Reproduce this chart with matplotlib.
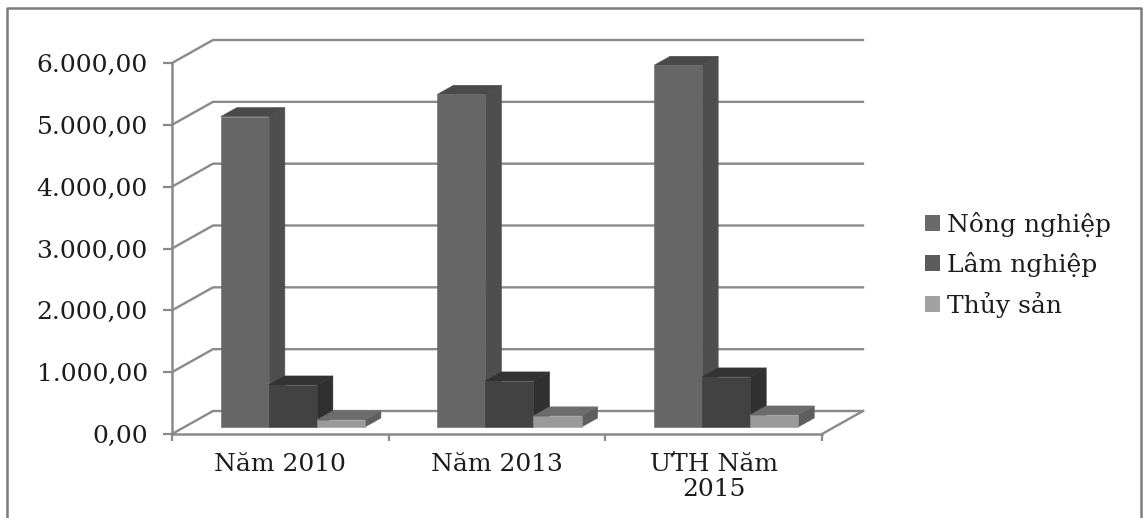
import matplotlib
matplotlib.use("Agg")
import matplotlib.pyplot as plt
from matplotlib.lines import Line2D
from matplotlib.patches import Patch, Polygon

categories = ["Năm 2010", "Năm 2013", "ƯTH Năm\n2015"]
series_names = ["Nông nghiệp", "Lâm nghiệp", "Thủy sản"]
nong_nghiep = [5020, 5380, 5850]
lam_nghiep = [680, 745, 810]
thuy_san = [115, 180, 195]
y_ticks = [0, 1000, 2000, 3000, 4000, 5000, 6000]
y_tick_labels = ["0,00", "1.000,00", "2.000,00", "3.000,00", "4.000,00", "5.000,00", "6.000,00"]

FRONT = ["#666666", "#424242", "#9a9a9a"]
SIDE = ["#4e4e4e", "#303030", "#5e5e5e"]
TOP = ["#4a4a4a", "#333333", "#6c6c6c"]
LEGEND = ["#6a6a6a", "#5c5c5c", "#a2a2a2"]
GRID = "#8a8a8a"
TEXT = "#1c1c1c"
FONT_SIZE = 18

W, H = 1144, 518
plt.rcParams["font.family"] = ["DejaVu Serif"]
fig = plt.figure(figsize=(W / 100, H / 100), dpi=100)
ax = fig.add_axes([172 / W, (H - 434) / H, 650 / W, 371 / H])
ax.set_xlim(0, 3)
ax.set_ylim(0, 6000)

# Oblique projection: depth 0 is the front plane, depth 1 the back wall
DEPTH_X = 41 / (650 / 3)
DEPTH_Y = 23 / (371 / 6000)


def project(x, value, depth):
    return x + depth * DEPTH_X, value + depth * DEPTH_Y


def face(points, color, z):
    ax.add_patch(Polygon([project(*p) for p in points], closed=True, facecolor=color,
                         edgecolor=color, lw=0.4, zorder=z, clip_on=False))


# Walls and floor lines
for v in y_ticks:
    x0, y0 = project(0, v, 0)
    x1, y1 = project(0, v, 1)
    x2, y2 = project(3, v, 1)
    ax.plot([x0, x1, x2], [y0, y1, y2], color=GRID, lw=1.7, zorder=1, clip_on=False)
x0, y0 = project(3, 0, 0)
x1, y1 = project(3, 0, 1)
ax.plot([x0, x1], [y0, y1], color=GRID, lw=1.7, zorder=1, clip_on=False)

# Bars, drawn left to right so each one overlaps the side of its neighbour
BAR_W = 0.2217
D0, D1 = 7 / 23, 16 / 23
all_series = [nong_nghiep, lam_nghiep, thuy_san]
for c in range(len(categories)):
    for s, values in enumerate(all_series):
        v = values[c]
        left = c + 0.5 + (s - 1.5) * BAR_W
        right = left + BAR_W
        z = 3 + c * 3 + s * 0.1
        face([(right, 0, D0), (right, 0, D1), (right, v, D1), (right, v, D0)], SIDE[s], z)
        face([(left, v, D0), (right, v, D0), (right, v, D1), (left, v, D1)], TOP[s], z)
        px, py = project(left, 0, D0)
        ax.bar(px, v, width=BAR_W, bottom=py, align="edge", color=FRONT[s],
               edgecolor=FRONT[s], linewidth=0.4, zorder=z + 0.01, clip_on=False)

# Axes
for name in ("top", "right"):
    ax.spines[name].set_visible(False)
for name in ("left", "bottom"):
    ax.spines[name].set_color(GRID)
    ax.spines[name].set_linewidth(1.8)
ax.patch.set_alpha(0)
ax.set_yticks(y_ticks, y_tick_labels)
ax.set_xticks([0, 1, 2, 3])
ax.set_xticklabels([])
ax.tick_params(axis="y", length=6.5, width=1.6, color=GRID, pad=11, labelsize=FONT_SIZE,
               labelcolor=TEXT)
ax.tick_params(axis="x", length=5, width=1.6, color=GRID)
for c, label in enumerate(categories):
    ax.annotate(label, xy=(c + 0.5, 0), xycoords="data", xytext=(0, -13.5),
                textcoords="offset points", ha="center", va="top", fontsize=FONT_SIZE,
                color=TEXT, linespacing=1.15, annotation_clip=False)

handles = [Patch(facecolor=col, edgecolor="none") for col in LEGEND]
fig.legend(handles, series_names, loc="upper left", bbox_to_anchor=(925 / W, 1 - 212 / H),
           frameon=False, fontsize=FONT_SIZE, labelcolor=TEXT, handlelength=0.6, handleheight=0.6,
           handletextpad=0.28, labelspacing=0.6, borderpad=0, borderaxespad=0)

# Outer chart frame
fx = [6.5 / W, 6.5 / W, 1141 / W, 1141 / W]
fy = [0, 1 - 8 / H, 1 - 8 / H, 0]
fig.add_artist(Line2D(fx, fy, color="#7c7c7c", lw=1.8, transform=fig.transFigure))

fig.savefig("out.png", dpi=100)
